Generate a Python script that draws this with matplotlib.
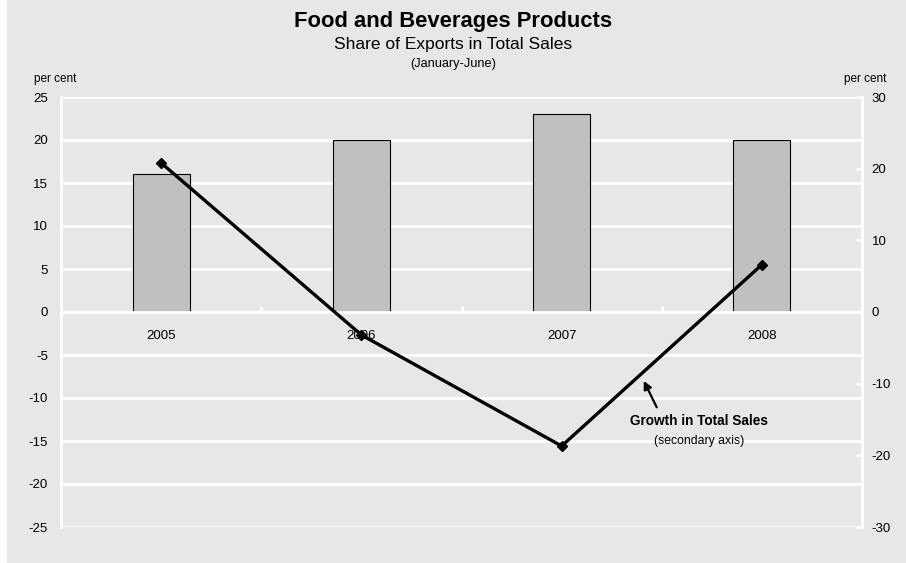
import matplotlib
matplotlib.use("Agg")
import matplotlib.pyplot as plt
from matplotlib.patches import Rectangle

# Data
years = ["2005", "2006", "2007", "2008"]
export_share = [16, 20, 23, 20]          # per cent, left axis (bars)
sales_growth = [20.8, -3.2, -18.7, 6.6]  # per cent, right axis (line)
left_ticks = [25, 20, 15, 10, 5, 0, -5, -10, -15, -20, -25]
right_ticks = [30, 20, 10, 0, -10, -20, -30]

BG = "#E6E7E8"
BAR = "#C0C0C0"
FONT = "Liberation Sans"
plt.rcParams["font.family"] = [FONT, "DejaVu Sans"]

fig = plt.figure(figsize=(9.06, 5.63), dpi=100, facecolor=BG)
fig.patches.append(Rectangle((0, 0), 7 / 906, 1, transform=fig.transFigure,
                             facecolor="white", edgecolor="none", zorder=-1))

ax = fig.add_axes([61 / 906, 1 - 527 / 563, (862 - 61) / 906, (527 - 97) / 563])
ax.set_facecolor(BG)
x = list(range(len(years)))

ax.set_xlim(-0.5, len(years) - 0.5)
ax.set_ylim(-25, 25)
ax.set_yticks(left_ticks)
ax.set_yticklabels([str(v) for v in left_ticks])
ax.yaxis.grid(True, color="white", linewidth=2.0, zorder=0)
ax.set_axisbelow(True)

ax.bar(x, export_share, width=0.285, color=BAR, edgecolor="black",
       linewidth=0.8, zorder=2)

# spines: white frame, x axis placed on the zero line
ax.spines["top"].set_visible(False)
for side in ["left", "right", "bottom"]:
    ax.spines[side].set_color("white")
    ax.spines[side].set_linewidth(2.0)
ax.spines["bottom"].set_position(("data", 0))

ax.set_xticks(x)
ax.set_xticklabels(years, fontsize=9.5)
ax.set_xticks([0.5, 1.5, 2.5], minor=True)
ax.tick_params(axis="x", which="major", length=0, pad=13)
ax.tick_params(axis="x", which="minor", direction="in", length=4, width=2,
               color="white")
ax.tick_params(axis="y", length=0, pad=9.5, labelsize=9.5)

ax2 = ax.twinx()
ax2.set_ylim(-30, 30)
ax2.set_yticks(right_ticks)
ax2.set_yticklabels([str(v) for v in right_ticks])
ax2.tick_params(axis="y", direction="in", length=4, width=2, color="white",
                pad=7, labelsize=9.5)
for side in ["top", "bottom", "left"]:
    ax2.spines[side].set_visible(False)
ax2.spines["right"].set_color("white")
ax2.spines["right"].set_linewidth(2.0)

ax2.plot(x, sales_growth, color="black", linewidth=2.4, marker="D",
         markersize=5, zorder=3, solid_joinstyle="miter")

ax2.annotate("", xy=(2.41, -9.6), xytext=(2.475, -13.3),
             arrowprops=dict(arrowstyle="-|>", color="black", lw=1.6,
                             mutation_scale=12, shrinkA=0, shrinkB=0))
ax2.text(2.685, -15.2, "Growth in Total Sales", ha="center", va="center",
         fontsize=9.8, fontweight="bold")
ax2.text(2.685, -18.0, "(secondary axis)", ha="center", va="center",
         fontsize=8.8)

fig.text(0.5, 1 - 21 / 563, "Food and Beverages Products", ha="center",
         va="center", fontsize=15.8, fontweight="bold")
fig.text(0.5, 1 - 45 / 563, "Share of Exports in Total Sales", ha="center",
         va="center", fontsize=12.5)
fig.text(0.5, 1 - 64 / 563, "(January-June)", ha="center", va="center",
         fontsize=9.2)
fig.text(34 / 906, 1 - 79 / 563, "per cent", ha="left", va="center",
         fontsize=8.5)
fig.text(886 / 906, 1 - 79 / 563, "per cent", ha="right", va="center",
         fontsize=8.5)

fig.savefig("out.png", dpi=100, facecolor=BG)
